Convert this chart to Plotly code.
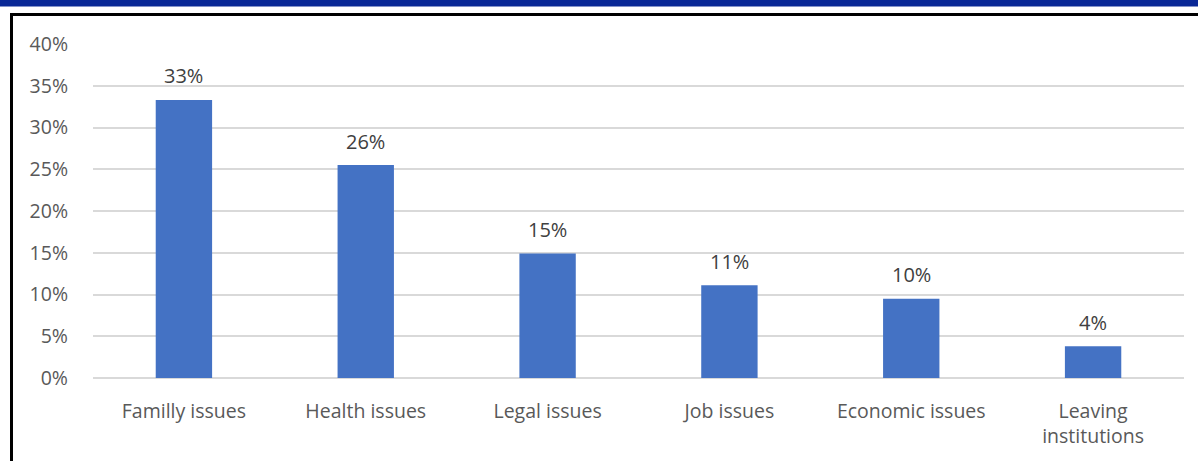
import plotly.graph_objects as go

categories = ["Familly issues", "Health issues", "Legal issues", "Job issues",
              "Economic issues", "Leaving institutions"]
tick_labels = ["Familly issues", "Health issues", "Legal issues", "Job issues",
               "Economic issues", "Leaving<br>institutions"]
values = [0.333, 0.255, 0.149, 0.111, 0.095, 0.038]
value_labels = ["33%", "26%", "15%", "11%", "10%", "4%"]
y_ticks = [0, 0.05, 0.10, 0.15, 0.20, 0.25, 0.30, 0.35, 0.40]
y_tick_labels = ["0%", "5%", "10%", "15%", "20%", "25%", "30%", "35%", "40%"]

FONT = "Open Sans"
W, H = 1198, 461
L, R, T, B = 93, 14, 44, 83
pw, ph = W - L - R, H - T - B

def px_x(p):
    return (p - L) / pw

def px_y(p):
    return (H - B - p) / ph

fig = go.Figure()
fig.add_trace(go.Bar(
    x=categories, y=values,
    marker=dict(color="#4472C4", line=dict(width=0)),
    hoverinfo="skip",
))

for c, v, t in zip(categories, values, value_labels):
    fig.add_annotation(x=c, y=v, text=t, showarrow=False, yanchor="middle",
                       yshift=24, font=dict(family=FONT, size=20, color="#404040"))

# top banner and border
fig.add_shape(type="rect", xref="paper", yref="paper",
              x0=px_x(-20), x1=px_x(W + 20), y0=px_y(6.5), y1=px_y(-20),
              fillcolor="#0a2896", line=dict(width=0), layer="above")
fig.add_shape(type="rect", xref="paper", yref="paper",
              x0=px_x(11.5), x1=px_x(W + 30), y0=px_y(H + 30), y1=px_y(14.5),
              fillcolor="rgba(0,0,0,0)", line=dict(color="black", width=3))

fig.update_layout(
    width=W, height=H,
    margin=dict(l=L, r=R, t=T, b=B),
    paper_bgcolor="white", plot_bgcolor="white",
    bargap=0.69,
    showlegend=False,
    xaxis=dict(tickmode="array", tickvals=categories, ticktext=tick_labels,
               showgrid=False, showline=False, ticks="",
               ticklabelstandoff=19,
               tickfont=dict(family=FONT, size=19.5, color="#595959"),
               fixedrange=True),
    yaxis=dict(range=[0, 0.40], tickmode="array", tickvals=y_ticks,
               ticktext=y_tick_labels, showgrid=True, gridcolor="#D9D9D9",
               gridwidth=2, zeroline=True, zerolinecolor="#D9D9D9",
               zerolinewidth=2, showline=False, ticks="",
               ticklabelstandoff=24,
               tickfont=dict(family=FONT, size=19.5, color="#595959"),
               fixedrange=True),
)

fig.write_html("out.html")
